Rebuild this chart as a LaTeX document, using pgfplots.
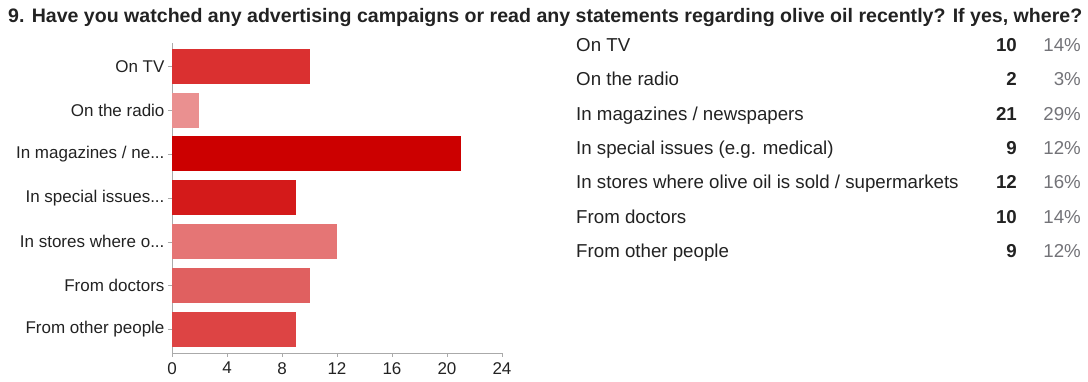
\documentclass[border=0pt]{standalone}
\usepackage{pgfplots}
\pgfplotsset{compat=1.18}
\usepackage{fontspec}
\setmainfont{Liberation Sans}
\newcommand\dd{...}
\definecolor{cA}{RGB}{218,48,48}
\definecolor{cB}{RGB}{234,144,144}
\definecolor{cC}{RGB}{204,0,0}
\definecolor{cD}{RGB}{212,26,26}
\definecolor{cE}{RGB}{229,117,117}
\definecolor{cF}{RGB}{224,96,96}
\definecolor{cG}{RGB}{221,68,68}
\definecolor{txt}{RGB}{34,34,34}
\definecolor{pct}{RGB}{115,115,120}
\definecolor{axl}{RGB}{170,170,170}
\begin{document}
\begin{tikzpicture}[x=1pt,y=-1pt]
\useasboundingbox (0,0) rectangle (1088,381);
\node[anchor=base west,inner sep=0pt,text=txt] at (8,22.5)
  {\resizebox{1074pt}{\height}{\fontsize{19.5}{21}\selectfont\bfseries 9. Have you watched any advertising campaigns or read any statements regarding olive oil recently? If yes, where?}};
\begin{axis}[
  at={(172pt,-352.7pt)}, anchor=south west,
  scale only axis, width=330pt, height=309.7pt,
  xbar, bar width=35pt, bar shift=0pt,
  xmin=0, xmax=24, xtick={0,4,...,24},
  ymin=-0.53, ymax=6.53, y dir=reverse,
  ytick={0,1,2,3,4,5,6},
  yticklabels={On TV,On the radio,In magazines / ne\dd,In special issues\dd,In stores where o\dd,From doctors,From other people},
  axis x line*=bottom, axis y line*=left,
  axis line style={draw=axl,-},
  tick style={draw=axl},
  tick align=outside, major tick length=4pt,
  x axis line style={-}, y axis line style={-},
  ticklabel style={text=txt},
  yticklabel style={font=\fontsize{17}{19}\selectfont},
  xticklabel style={font=\fontsize{17}{19}\selectfont, yshift=-2pt},
  /pgf/number format/assume math mode=true,
  clip=false,
]
\addplot[fill=cA,draw=none] coordinates {(10,0)};
\addplot[fill=cB,draw=none] coordinates {(2,1)};
\addplot[fill=cC,draw=none] coordinates {(21,2)};
\addplot[fill=cD,draw=none] coordinates {(9,3)};
\addplot[fill=cE,draw=none] coordinates {(12,4)};
\addplot[fill=cF,draw=none] coordinates {(10,5)};
\addplot[fill=cG,draw=none] coordinates {(9,6)};
\end{axis}
\foreach \lab/\n/\p [count=\i from 0] in {{On TV}/10/{14\%},{On the radio}/2/{3\%},{In magazines / newspapers}/21/{29\%},{In special issues (e.g. medical)}/9/{12\%},{In stores where olive oil is sold / supermarkets}/12/{16\%},{From doctors}/10/{14\%},{From other people}/9/{12\%}}{
  \pgfmathsetmacro{\yy}{51.5+34.3*\i}
  \node[anchor=base west,inner sep=0pt,text=txt,font=\fontsize{18.7}{20}\selectfont] at (576,\yy) {\lab};
  \node[anchor=base east,inner sep=0pt,text=txt,font=\fontsize{18.7}{20}\selectfont\bfseries] at (1017,\yy) {\n};
  \node[anchor=base east,inner sep=0pt,text=pct,font=\fontsize{18.7}{20}\selectfont] at (1081,\yy) {\p};
}
\end{tikzpicture}
\end{document}
